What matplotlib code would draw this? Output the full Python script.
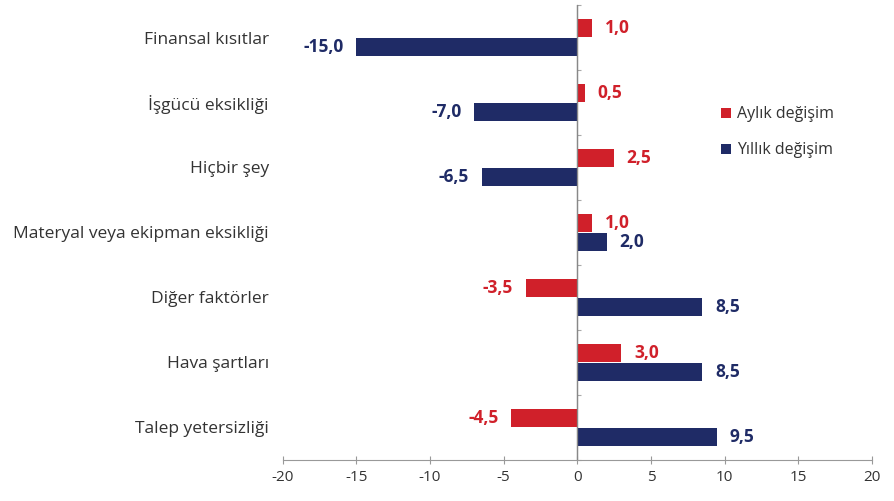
import numpy as np
import matplotlib
matplotlib.use("Agg")
import matplotlib.pyplot as plt

plt.rcParams['font.family'] = ['Open Sans', 'DejaVu Sans']

categories = ["Finansal kısıtlar", "İşgücü eksikliği", "Hiçbir şey",
              "Materyal veya ekipman eksikliği", "Diğer faktörler",
              "Hava şartları", "Talep yetersizliği"]
aylik = [1.0, 0.5, 2.5, 1.0, -3.5, 3.0, -4.5]
yillik = [-15.0, -7.0, -6.5, 2.0, 8.5, 8.5, 9.5]
xticks = [-20, -15, -10, -5, 0, 5, 10, 15, 20]

red = '#d0202a'
navy = '#1f2b66'

fig = plt.figure(figsize=(8.95, 5.01), dpi=100)
ax = fig.add_axes([0.316, 0.082, 0.658, 0.908])

y = np.arange(len(categories))
h = 0.27
off = 0.145
ax.barh(y - off, aylik, height=h, color=red, label='Aylık değişim')
ax.barh(y + off, yillik, height=h, color=navy, label='Yıllık değişim')

def fmt(v):
    return f"{v:.1f}".replace('.', ',')

for vals, dy, c in [(aylik, -off, red), (yillik, off, navy)]:
    for yi, v in zip(y, vals):
        if v >= 0:
            ax.annotate(fmt(v), (v, yi + dy), xytext=(9, 0), textcoords='offset points',
                        ha='left', va='center', color=c, fontsize=12.5, fontweight='bold')
        else:
            ax.annotate(fmt(v), (v, yi + dy), xytext=(-9, 0), textcoords='offset points',
                        ha='right', va='center', color=c, fontsize=12.5, fontweight='bold')

ax.set_xlim(-20, 20)
ax.set_ylim(len(categories) - 0.5, -0.5)
ax.set_xticks(xticks)
ax.set_xticklabels([str(t) for t in xticks], fontsize=11, color='#333333')
ax.set_yticks(y)
ax.set_yticklabels(categories, fontsize=12.5, color='#333333')
ax.tick_params(axis='y', length=0, pad=10)
ax.tick_params(axis='x', direction='inout', length=6, color='#999999', pad=4)

for s in ['top', 'right', 'left']:
    ax.spines[s].set_visible(False)
ax.spines['bottom'].set_color('#999999')
ax.axvline(0, color='#888888', lw=0.9)

sec = ax.secondary_yaxis(0.5)
sec.set_yticks(np.arange(len(categories) + 1) - 0.5)
sec.set_yticklabels([])
sec.tick_params(length=3, color='#aaaaaa')
sec.spines['left'].set_visible(False)

ax.legend(loc='center left', bbox_to_anchor=(0.72, 0.72), frameon=False,
          handlelength=0.6, handleheight=0.6, handletextpad=0.4, labelspacing=1.25,
          fontsize=11.5, labelcolor='#333333')

fig.savefig('out.png', dpi=100)
